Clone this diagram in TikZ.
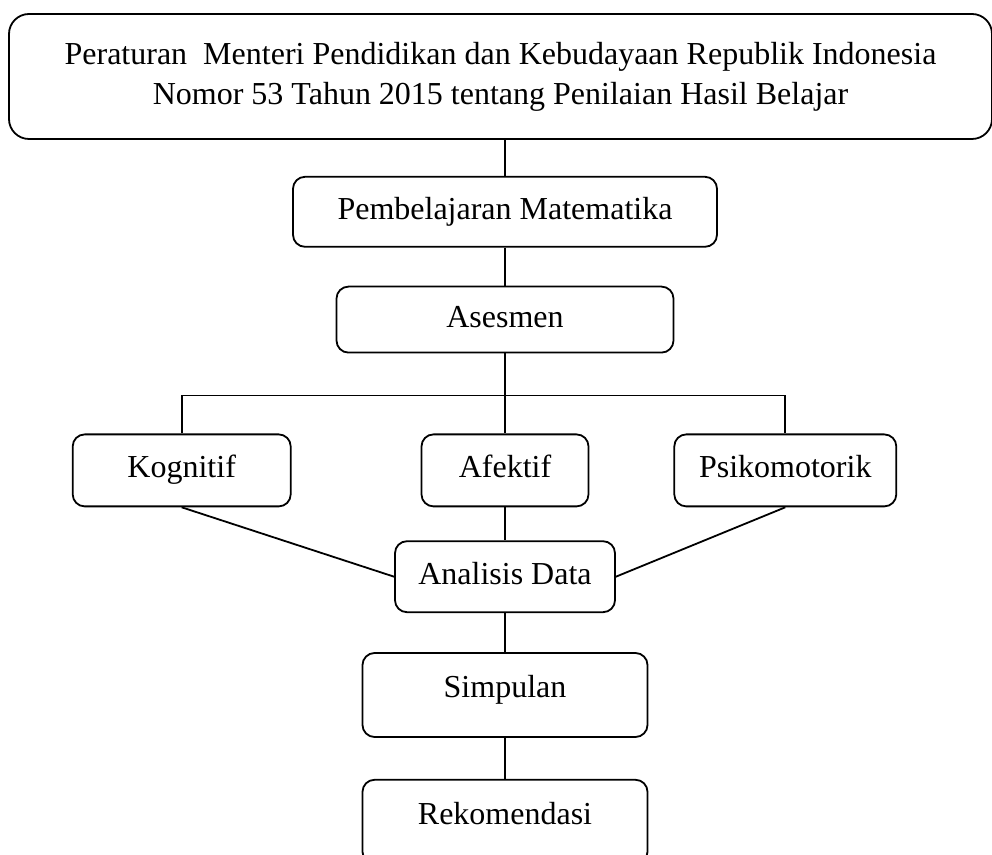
\documentclass[tikz,border=0pt]{standalone}
\usepackage{fontspec}
\setmainfont{Liberation Serif}
\usetikzlibrary{positioning}

\begin{document}
\begin{tikzpicture}[
node distance=20pt,
box/.style={draw,rounded corners=6pt,line width=0.9pt,align=center,inner sep=0pt,minimum height=36pt,text height=11pt,text depth=3.5pt,font=\fontsize{16}{20}\selectfont},
link/.style={line width=0.9pt}
]
\useasboundingbox (0,0) rectangle (496pt,-427.5pt);
\node[box,rounded corners=10pt,text height=,text depth=,minimum width=491.5pt,minimum height=62.5pt] (law) at (250.25pt,-38.25pt) {Peraturan\ \ Menteri Pendidikan dan Kebudayaan Republik Indonesia\\Nomor 53 Tahun 2015 tentang Penilaian Hasil Belajar};
\node[box,minimum width=212pt,minimum height=35pt,below=18pt of law,xshift=2.25pt] (pm) {Pembelajaran Matematika};
\node[box,minimum width=168.5pt,minimum height=33pt,below=19pt of pm] (ases) {Asesmen};
\node[box,minimum width=83.5pt,below=40pt of ases] (afe) {Afektif};
\node[box,minimum width=109pt,left=64.5pt of afe] (kog) {Kognitif};
\node[box,minimum width=111pt,right=42pt of afe] (psi) {Psikomotorik};
\node[box,minimum width=110pt,minimum height=35.5pt,below=16.5pt of afe] (ana) {Analisis Data};
\node[box,minimum width=142.5pt,minimum height=42pt,text depth=8pt,below=19.5pt of ana] (simp) {Simpulan};
\node[box,minimum width=142.5pt,minimum height=42pt,text depth=8pt,below=20.5pt of simp] (rek) {Rekomendasi};
% connectors
\draw[link] (law.south -| pm.north) -- (pm.north);
\draw[link] (pm) -- (ases);
\draw[link] (ases.south) -- ++(0,-21pt) coordinate (fork);
\draw[link] (kog.north) |- (fork) -| (psi.north);
\draw[link] (fork) -- (fork |- afe.north);
\draw[link] (afe) -- (ana);
\draw[link] (kog.south) -- (ana.west);
\draw[link] (psi.south) -- (ana.east);
\draw[link] (ana) -- (simp);
\draw[link] (simp) -- (rek);
\end{tikzpicture}
\end{document}
